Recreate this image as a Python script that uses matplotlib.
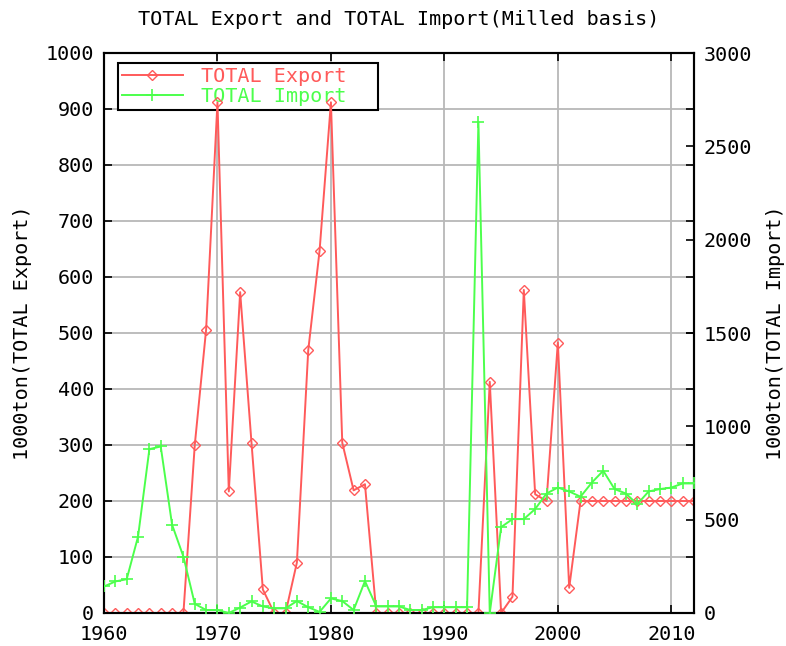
'''Recreate gnuplot-style chart of total export and import (milled basis)'''

import matplotlib
matplotlib.use("Agg")
import matplotlib.pyplot as plt

plt.rcParams['font.family'] = ['DejaVu Sans Mono']

years = list(range(1960, 2013))

# 1000 ton, left axis
export = [0, 0, 0, 0, 0, 0, 0, 0, 300, 506, 912, 217, 573, 304, 42, 0, 0, 90,
          469, 647, 912, 304, 219, 230, 0, 0, 0, 0, 0, 0, 0, 0, 0, 0, 413, 0,
          29, 577, 212, 200, 483, 45, 200, 200, 200, 200, 200, 200, 200, 200,
          200, 200, 200]

# 1000 ton, right axis
imports = [142, 169, 181, 409, 878, 892, 473, 302, 49, 16, 16, 0, 29, 62, 35,
           25, 25, 64, 31, 6, 78, 64, 16, 171, 35, 35, 35, 16, 16, 31, 31, 31,
           31, 2630, 0, 460, 503, 503, 557, 640, 672, 651, 623, 699, 762, 664,
           640, 583, 651, 664, 672, 694, 694]

RED = '#ff5a5a'
GREEN = '#4cff4c'
FS = 14.5

fig = plt.figure(figsize=(7.86, 6.46), dpi=100)
ax = fig.add_axes([104 / 786, 1 - 613 / 646, 590 / 786, 560 / 646])
ax2 = ax.twinx()

l1, = ax.plot(years, export, color=RED, lw=1.4, marker='D', ms=5,
              mfc='none', mec=RED, mew=1.0, label='TOTAL Export', zorder=3)
l2, = ax2.plot(years, imports, color=GREEN, lw=1.4, marker='+', ms=9,
               mew=1.2, label='TOTAL Import', zorder=3)

ax.set_xlim(1960, 2012)
ax.set_ylim(0, 1000)
ax2.set_ylim(0, 3000)
ax.set_xticks(range(1960, 2011, 10))
ax.set_yticks(range(0, 1001, 100))
ax2.set_yticks(range(0, 3001, 500))

ax.grid(True, color='#b8b8b8', lw=1.3, zorder=0)
ax.set_axisbelow(True)

for a in (ax, ax2):
    for s in a.spines.values():
        s.set_color('black')
        s.set_linewidth(1.5)
ax.tick_params(axis='both', direction='in', length=6, width=1.2,
               labelsize=FS, top=True, right=True, pad=7)
ax.tick_params(axis='x', pad=9)
ax2.tick_params(axis='y', direction='in', length=6, width=1.2,
                labelsize=FS, pad=7)

ax.set_title('TOTAL Export and TOTAL Import(Milled basis)', fontsize=FS,
             pad=20)
ax.set_ylabel('1000ton(TOTAL Export)', fontsize=FS, labelpad=10)
ax2.set_ylabel('1000ton(TOTAL Import)', fontsize=FS, labelpad=10)

leg = ax.legend(handles=[l1, l2], loc='upper left', fontsize=FS,
                bbox_to_anchor=(0.024, 0.982, 0.44, 0), mode='expand',
                borderaxespad=0, handlelength=3.0, fancybox=False,
                framealpha=1, edgecolor='black', labelcolor='linecolor',
                borderpad=0.2, labelspacing=0.05, handletextpad=0.9)
leg.get_frame().set_linewidth(1.5)
leg.set_zorder(1)

plt.savefig('out.png', dpi=100)
plt.close()
